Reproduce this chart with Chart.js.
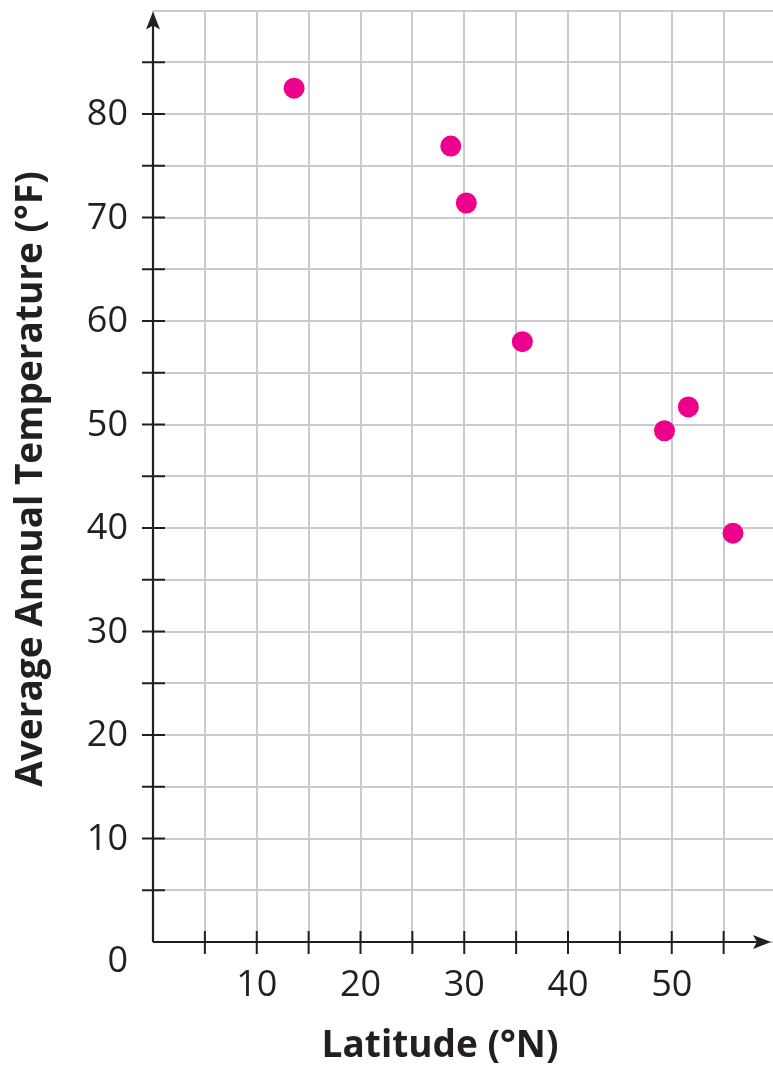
<!DOCTYPE html>
<html>
<head>
<meta charset="utf-8">
<title>Latitude vs Average Annual Temperature</title>
<script src="https://cdn.jsdelivr.net/npm/chart.js@4/dist/chart.umd.min.js"></script>
<style>
  html, body { margin: 0; padding: 0; background: #fff; overflow: hidden; }
  #chart { display: block; }
</style>
</head>
<body>
<!-- kanvas sedikit lebih lebar supaya grid tembus sampai tepi kanan -->
<canvas id="chart" width="786" height="1067"></canvas>
<script>
// Data dari gambar (perkiraan)
const latitude = [13.6, 28.7, 30.2, 35.6, 49.3, 51.6, 55.9];
const avgTemp = [82.5, 76.9, 71.4, 58.0, 49.4, 51.7, 39.5];

// Label sumbu
const xTickLabels = [10, 20, 30, 40, 50];
const yTickLabels = [10, 20, 30, 40, 50, 60, 70, 80];
const xTitle = 'Latitude (°N)';
const yTitle = 'Average Annual Temperature (°F)';

const inkColor = '#231f20';
const gridColor = '#cbcbcf';
const dotColor = '#ec008c';

// Sumbu dengan panah, tick silang, label angka & judul
const axesPlugin = {
  id: 'axesPlugin',
  afterDraw(chart) {
    const { ctx, scales: { x, y } } = chart;
    const x0 = x.getPixelForValue(0);
    const y0 = y.getPixelForValue(0);
    const xEnd = 771;
    const yTop = y.getPixelForValue(90) + 1;

    ctx.save();
    ctx.strokeStyle = inkColor;
    ctx.fillStyle = inkColor;
    ctx.lineWidth = 2.2;

    // garis sumbu
    ctx.beginPath();
    ctx.moveTo(x0, y0);
    ctx.lineTo(x0, yTop + 10);
    ctx.moveTo(x0, y0);
    ctx.lineTo(xEnd - 10, y0);
    ctx.stroke();

    // panah
    ctx.beginPath();
    ctx.moveTo(x0, yTop);
    ctx.lineTo(x0 - 7, yTop + 18);
    ctx.lineTo(x0, yTop + 14);
    ctx.lineTo(x0 + 7, yTop + 18);
    ctx.closePath();
    ctx.fill();
    ctx.beginPath();
    ctx.moveTo(xEnd, y0);
    ctx.lineTo(xEnd - 18, y0 - 7);
    ctx.lineTo(xEnd - 14, y0);
    ctx.lineTo(xEnd - 18, y0 + 7);
    ctx.closePath();
    ctx.fill();

    // tick kecil tiap 5
    ctx.lineWidth = 2;
    ctx.beginPath();
    for (let v = 5; v <= 85; v += 5) {
      const py = y.getPixelForValue(v);
      ctx.moveTo(x0 - 11, py);
      ctx.lineTo(x0 + 12, py);
    }
    for (let v = 5; v <= 55; v += 5) {
      const px = x.getPixelForValue(v);
      ctx.moveTo(px, y0 - 11);
      ctx.lineTo(px, y0 + 12);
    }
    ctx.stroke();

    // label angka
    ctx.font = '36px "Open Sans"';
    ctx.textBaseline = 'middle';
    ctx.textAlign = 'right';
    yTickLabels.forEach(v => {
      ctx.fillText(String(v), x0 - 25, y.getPixelForValue(v) + 1);
    });
    ctx.fillText('0', x0 - 25, y0 + 20);
    ctx.textAlign = 'center';
    xTickLabels.forEach(v => {
      ctx.fillText(String(v), x.getPixelForValue(v), y0 + 44);
    });

    // judul sumbu
    ctx.font = 'bold 37px "Open Sans"';
    ctx.fillText(xTitle, 440, y0 + 104);
    ctx.translate(31, 479);
    ctx.rotate(-Math.PI / 2);
    ctx.fillText(yTitle, 0, 0);
    ctx.restore();
  }
};

const ctx = document.getElementById('chart').getContext('2d');
const chart = new Chart(ctx, {
  type: 'scatter',
  data: {
    datasets: [{
      label: 'Kota',
      data: latitude.map((lat, i) => ({ x: lat, y: avgTemp[i] })),
      backgroundColor: dotColor,
      borderColor: dotColor,
      borderWidth: 0,
      pointRadius: 10.5,
    }],
  },
  options: {
    responsive: false,
    animation: false,
    devicePixelRatio: 1,
    layout: { padding: { left: 153, top: 10, right: 0, bottom: 125 } },
    plugins: {
      legend: { display: false },
      tooltip: { enabled: false },
    },
    scales: {
      x: {
        type: 'linear',
        min: 0,
        max: 60,
        ticks: { stepSize: 5, display: false },
        grid: { color: gridColor, lineWidth: 2, drawTicks: false },
        border: { display: false },
      },
      y: {
        type: 'linear',
        min: 0,
        max: 90,
        ticks: { stepSize: 5, display: false },
        grid: { color: gridColor, lineWidth: 2, drawTicks: false },
        border: { display: false },
      },
    },
  },
  plugins: [axesPlugin],
});
</script>
</body>
</html>
